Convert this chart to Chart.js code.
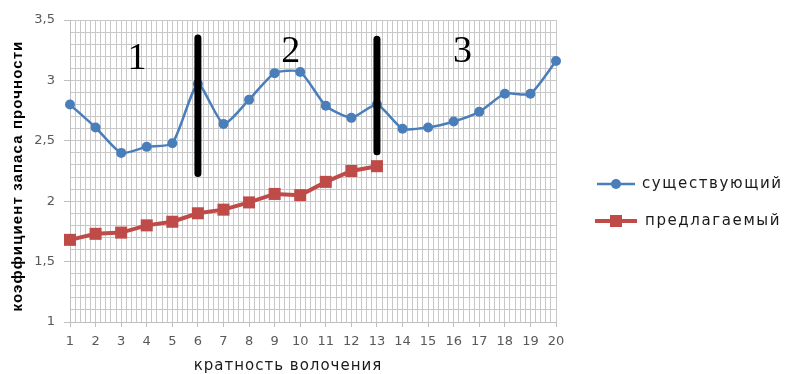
<!DOCTYPE html>
<html>
<head>
<meta charset="utf-8">
<script src="https://cdn.jsdelivr.net/npm/chart.js@4"></script>
<style>
  html, body { margin: 0; padding: 0; background: #fff; }
  #wrap { width: 787px; height: 374px; }
</style>
</head>
<body>
<div id="wrap"><canvas id="myChart" width="787" height="374"></canvas></div>
<script>
// кратность волочения (ось X)
const passes = [1, 2, 3, 4, 5, 6, 7, 8, 9, 10, 11, 12, 13, 14, 15, 16, 17, 18, 19, 20];
// коэффициент запаса прочности
const existing = [2.8, 2.61, 2.4, 2.45, 2.48, 2.97, 2.64, 2.84, 3.06, 3.07, 2.79, 2.69, 2.8, 2.6, 2.61, 2.66, 2.74, 2.89, 2.89, 3.16];
const proposed = [1.68, 1.73, 1.74, 1.8, 1.83, 1.9, 1.93, 1.99, 2.06, 2.05, 2.16, 2.25, 2.29];
const seriesNames = ['существующий', 'предлагаемый'];

// границы участков (черные линии) и номера участков
const dividerX = [6, 13];
const dividerFrom = [2.23, 2.41];
const dividerTo = [3.35, 3.34];
const stageLabels = ['1', '2', '3'];
const stageX = [3.62, 9.63, 16.34];
const stageY = [3.094, 3.152, 3.152];

const yLabelTicks = [1, 1.5, 2, 2.5, 3, 3.5];
const xTitle = 'кратность волочения';
const yTitle = 'коэффициент запаса прочности';

const BLUE = '#4a7ebb';
const RED = '#be4b48';
const GRID = '#c8c8c8';

function isInt(v) {
  return Math.abs(v - Math.round(v)) < 1e-6;
}
function isLabelY(v) {
  return yLabelTicks.some((t) => Math.abs(t - v) < 1e-6);
}

// подписи участков, легенда и подписи осей
const extrasPlugin = {
  id: 'extras',
  afterDraw(chart) {
    const ctx = chart.ctx;
    const xs = chart.scales.x;
    const ys = chart.scales.y;
    ctx.save();

    // номера участков
    ctx.fillStyle = '#000';
    ctx.font = '38px "Liberation Serif"';
    ctx.textAlign = 'center';
    ctx.textBaseline = 'alphabetic';
    stageLabels.forEach((t, i) => {
      ctx.fillText(t, xs.getPixelForValue(stageX[i]), ys.getPixelForValue(stageY[i]));
    });

    // подпись оси X
    ctx.fillStyle = '#1a1a1a';
    ctx.font = '15px "DejaVu Sans"';
    ctx.letterSpacing = '1px';
    ctx.fillText(xTitle, 288, 370);

    // подпись оси Y
    ctx.save();
    ctx.translate(22, 176);
    ctx.rotate(-Math.PI / 2);
    ctx.fillStyle = '#000';
    ctx.font = 'bold 15px "Liberation Sans"';
    ctx.letterSpacing = '1.1px';
    ctx.textBaseline = 'alphabetic';
    ctx.fillText(yTitle, 0, 0);
    ctx.restore();

    // легенда
    ctx.textAlign = 'left';
    ctx.textBaseline = 'middle';
    ctx.font = '15px "DejaVu Sans"';
    ctx.letterSpacing = '1.6px';

    ctx.strokeStyle = BLUE;
    ctx.lineWidth = 2.5;
    ctx.beginPath();
    ctx.moveTo(597, 184);
    ctx.lineTo(635, 184);
    ctx.stroke();
    ctx.fillStyle = BLUE;
    ctx.beginPath();
    ctx.arc(616, 184, 5, 0, Math.PI * 2);
    ctx.fill();
    ctx.fillStyle = '#1a1a1a';
    ctx.fillText(seriesNames[0], 642, 184);

    ctx.strokeStyle = RED;
    ctx.lineWidth = 4;
    ctx.beginPath();
    ctx.moveTo(595, 221);
    ctx.lineTo(637, 221);
    ctx.stroke();
    ctx.fillStyle = RED;
    ctx.fillRect(610, 215, 12, 12);
    ctx.fillStyle = '#1a1a1a';
    ctx.fillText(seriesNames[1], 645, 221);

    ctx.restore();
  },
};

const dividerSets = dividerX.map((x, i) => ({
  label: 'граница ' + (i + 1),
  data: [{ x: x, y: dividerFrom[i] }, { x: x, y: dividerTo[i] }],
  borderColor: '#000',
  borderWidth: 7,
  borderCapStyle: 'round',
  pointRadius: 0,
  clip: false,
}));

const ctx = document.getElementById('myChart').getContext('2d');
new Chart(ctx, {
  type: 'line',
  data: {
    datasets: [
      ...dividerSets,
      {
        label: seriesNames[0],
        data: passes.map((p, i) => ({ x: p, y: existing[i] })),
        borderColor: BLUE,
        backgroundColor: BLUE,
        borderWidth: 2.5,
        pointRadius: 5,
        pointBorderWidth: 0,
        pointBackgroundColor: BLUE,
        tension: 0.2,
        clip: false,
      },
      {
        label: seriesNames[1],
        data: proposed.map((v, i) => ({ x: passes[i], y: v })),
        borderColor: RED,
        backgroundColor: RED,
        borderWidth: 4,
        pointStyle: 'rect',
        pointRadius: 8.5,
        pointBorderWidth: 0,
        pointBackgroundColor: RED,
        tension: 0,
        clip: false,
      },
    ],
  },
  options: {
    responsive: false,
    animation: false,
    devicePixelRatio: 1,
    events: [],
    layout: { padding: { top: 20, right: 231, bottom: 0, left: 0 } },
    plugins: { legend: { display: false }, tooltip: { enabled: false } },
    scales: {
      x: {
        type: 'linear',
        min: 1,
        max: 20,
        afterFit: (s) => { s.height = 52; },
        ticks: {
          stepSize: 0.2,
          autoSkip: false,
          maxRotation: 0,
          padding: 7,
          color: '#595959',
          font: { family: 'DejaVu Sans', size: 13 },
          callback: (v) => (isInt(v) ? String(Math.round(v)) : ''),
        },
        grid: {
          color: GRID,
          tickLength: 5,
          tickColor: (c) => (c.tick && isInt(c.tick.value) ? '#bfbfbf' : 'rgba(0,0,0,0)'),
        },
        border: { color: '#bfbfbf' },
      },
      y: {
        min: 1,
        max: 3.5,
        afterFit: (s) => { s.width = 70; },
        ticks: {
          stepSize: 0.1,
          autoSkip: false,
          padding: 9,
          color: '#595959',
          font: { family: 'DejaVu Sans', size: 13 },
          callback: (v) => (isLabelY(v) ? String(Math.round(v * 10) / 10).replace('.', ',') : ''),
        },
        grid: {
          color: GRID,
          tickLength: 6,
          tickColor: (c) => (c.tick && isLabelY(c.tick.value) ? '#bfbfbf' : 'rgba(0,0,0,0)'),
        },
        border: { color: '#bfbfbf' },
      },
    },
  },
  plugins: [extrasPlugin],
});
</script>
</body>
</html>
